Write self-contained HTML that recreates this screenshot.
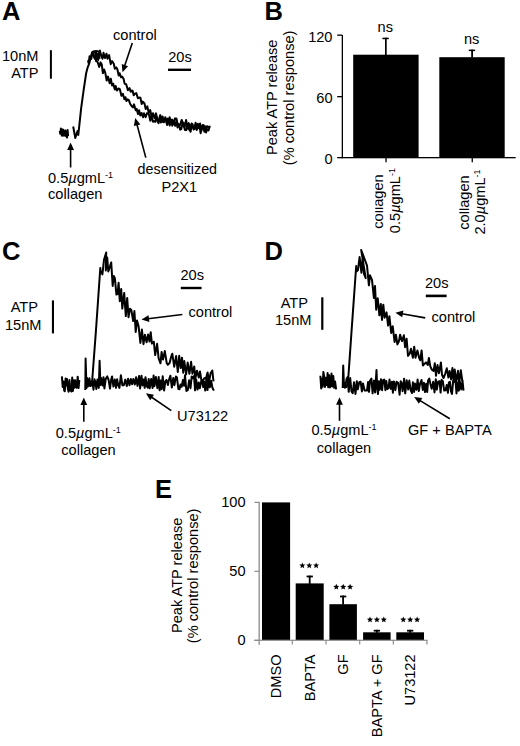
<!DOCTYPE html>
<html><head><meta charset="utf-8"><style>
html,body{margin:0;padding:0;background:#fff;width:520px;height:746px;overflow:hidden}
svg{display:block}
svg text{font-family:"Liberation Sans",sans-serif;fill:#000}
svg path{fill:none;stroke:#000;stroke-width:2;stroke-linejoin:round}
</style></head><body>
<svg width="520" height="746" viewBox="0 0 520 746" font-family="Liberation Sans, sans-serif" fill="#000"><g fill="none" stroke="#000" stroke-width="1.7" stroke-linejoin="round" class="tr"></g><text x="2.0" y="20.2" font-size="25.5" text-anchor="start" font-weight="bold" >A</text>
<text x="38.5" y="61.3" font-size="14.6" text-anchor="end" >10nM</text>
<text x="38.5" y="78.0" font-size="14.6" text-anchor="end" >ATP</text>
<rect x="49.9" y="50.2" width="2" height="28.5"/>
<text x="113.0" y="40.0" font-size="14.6" text-anchor="start" >control</text>
<line x1="132.3" y1="43.0" x2="124.6" y2="66.1" stroke="#000" stroke-width="1.6"/><polygon points="122.5,72.3 121.7,64.1 128.1,66.3" fill="#000"/>
<text x="168.2" y="62.0" font-size="14.6" text-anchor="start" >20s</text>
<rect x="168" y="68.6" width="23" height="2.4"/>
<path d="M59.8 130.9 L60.3 133.8 L60.9 128.6 L61.4 129.7 L61.8 135.6 L62.4 129.4 L62.9 135.7 L63.4 129.8 L64.0 135.5 L64.7 134.3 L65.1 135.6 L65.5 130.6 L66.0 136.2 L66.7 136.6 L67.1 137.5 L67.6 130.0 L68.1 136.2"/>
<path d="M73.2 126.5 L75.3 138.0 L77.5 131.0 L78.3 135.0 L81.1 108.7 L83.7 89.6 L86.2 73.0 L87.5 68.0 L89.4 62.8 L91.3 55.2 L93.2 51.4 L96.0 51.0 L98.3 51.5 L99.6 52.6"/>
<path d="M88.0 60.3 L88.6 63.1 L89.6 56.2 L90.3 58.3 L91.3 59.0 L91.9 52.5 L92.9 52.1 L93.8 57.2 L94.4 57.9 L95.1 59.0 L96.1 52.4 L96.8 59.0 L97.4 53.9 L98.2 60.1 L98.9 53.2 L99.6 58.8"/>
<path d="M99.6 49.8 L101.2 55.5 L102.5 58.7 L103.5 52.8 L104.9 58.1 L106.5 53.7 L107.5 58.7 L109.1 55.1 L110.7 64.2 L112.1 61.1 L113.8 63.8 L114.8 68.7 L116.2 67.4 L117.4 69.3 L118.7 75.6 L119.6 73.2 L121.1 77.3 L122.1 76.6 L123.6 78.9 L124.7 83.9 L126.2 84.3 L127.9 90.2 L129.5 88.1 L130.7 91.8 L131.7 90.6 L132.6 90.7 L133.7 95.3 L135.0 93.7 L136.3 93.1 L137.9 98.3 L139.2 97.5 L140.4 97.8 L141.7 104.0 L142.8 101.6 L144.5 103.5 L145.7 109.0 L147.3 106.4 L148.7 112.6 L150.2 110.0 L151.6 116.8 L153.0 113.2 L154.4 118.1 L156.0 113.4 L157.5 120.1 L159.0 120.1 L160.3 115.1 L161.6 121.8 L162.6 116.4 L163.9 122.3 L165.3 117.2 L166.7 122.7 L167.7 118.6 L168.7 121.4 L169.6 117.3 L171.0 122.1 L172.2 119.7 L173.8 123.9 L174.8 118.6 L176.4 118.5 L177.8 124.8 L179.2 125.9 L180.4 124.3 L181.7 119.9 L183.3 125.2 L184.5 127.6 L186.1 119.9 L187.4 128.3 L188.7 123.1 L190.1 128.5 L191.6 123.4 L193.3 127.7 L194.3 128.9 L195.6 122.8 L196.6 129.2 L197.8 123.8 L198.9 128.3 L200.1 123.4 L201.4 130.4 L202.8 125.0 L204.4 131.7 L205.4 126.5 L207.0 130.3 L208.5 130.5 L209.9 125.7"/>
<path d="M95.0 51.0 L96.1 61.1 L97.6 62.0 L99.2 66.9 L100.6 62.4 L101.7 64.2 L102.9 73.1 L104.1 69.5 L105.3 72.9 L106.7 80.6 L108.0 76.6 L109.7 83.2 L110.8 78.7 L112.1 85.5 L113.2 83.7 L114.8 89.6 L115.7 86.0 L116.9 90.5 L118.6 88.5 L119.8 89.1 L121.4 95.8 L122.9 93.9 L124.4 99.3 L125.5 97.2 L126.4 101.1 L127.6 99.4 L128.8 100.2 L130.1 103.7 L131.2 105.5 L132.9 107.4 L134.0 104.4 L135.7 110.3 L136.6 108.9 L138.1 114.1 L139.1 110.3 L140.3 115.5 L141.6 113.0 L143.0 117.3 L144.0 113.3 L145.6 117.2 L147.1 113.1 L148.8 113.9 L150.3 120.7 L151.5 115.7 L153.0 121.7 L154.1 121.3 L155.3 121.8 L156.2 116.1 L157.5 121.0 L158.5 123.2 L159.9 116.4 L160.9 122.4 L161.9 119.0 L163.2 122.1 L164.6 118.8 L165.9 119.4 L167.1 125.0 L168.4 119.5 L169.7 125.6 L171.1 119.7 L172.3 125.7 L173.7 122.3 L175.2 125.8 L176.4 121.0 L177.5 127.4 L178.8 124.0 L180.2 129.7 L181.2 129.2 L182.6 123.2 L183.7 122.7 L184.8 129.9 L186.3 130.1 L187.8 125.8 L189.0 129.2 L190.6 131.7 L191.6 126.0 L192.5 124.2 L193.6 129.5 L195.3 125.3 L196.7 130.0 L198.3 124.8 L199.6 126.3 L200.6 133.2 L202.0 127.0 L203.5 125.2 L205.1 127.3 L206.1 132.6 L207.0 126.3 L208.5 126.9 L209.6 127.1"/>
<line x1="70.6" y1="167.5" x2="70.6" y2="149.0" stroke="#000" stroke-width="1.6"/><polygon points="70.6,142.5 74.0,150.0 67.2,150.0" fill="#000"/>
<text x="48.0" y="183.0" font-size="14.6" text-anchor="start" >0.5<tspan font-style="italic">µ</tspan>gmL<tspan font-size="9" dy="-5">-1</tspan></text>
<text x="48.0" y="198.5" font-size="14.6" text-anchor="start" >collagen</text>
<line x1="145.8" y1="157.6" x2="136.9" y2="124.3" stroke="#000" stroke-width="1.6"/><polygon points="135.2,118.0 140.4,124.4 133.9,126.1" fill="#000"/>
<text x="137.6" y="174.0" font-size="14.3" text-anchor="start" >desensitized</text>
<text x="161.5" y="191.5" font-size="14.6" text-anchor="start" >P2X1</text>
<text x="264.5" y="20.2" font-size="25.5" text-anchor="start" font-weight="bold" >B</text>
<text transform="translate(276.5,97.3) rotate(-90)" font-size="14.6" text-anchor="middle" font-family="Liberation Sans, sans-serif">Peak ATP release</text>
<text transform="translate(293.8,97.9) rotate(-90)" font-size="14.6" text-anchor="middle" font-family="Liberation Sans, sans-serif">(% control response)</text>
<rect x="341.7" y="35" width="1.3" height="123.3"/>
<rect x="337.2" y="34.5" width="5" height="1.3"/>
<rect x="337.2" y="96.0" width="5" height="1.3"/>
<rect x="337.2" y="157" width="178.5" height="1.3"/>
<text x="332.5" y="41.8" font-size="14.6" text-anchor="end" >120</text>
<text x="332.5" y="102.5" font-size="14.6" text-anchor="end" >60</text>
<text x="332.5" y="163.5" font-size="14.6" text-anchor="end" >0</text>
<rect x="353.2" y="54.7" width="65.4" height="103"/>
<rect x="439.3" y="57.2" width="65.4" height="100.5"/>
<rect x="385" y="37.7" width="1.7" height="17.5"/><rect x="382.4" y="37.7" width="6.4" height="1.5"/>
<rect x="471.2" y="49.6" width="1.8" height="8"/><rect x="468.8" y="49.6" width="6.3" height="1.5"/>
<text x="385.3" y="32.1" font-size="14.6" text-anchor="middle" >ns</text>
<text x="471.6" y="44.2" font-size="14.6" text-anchor="middle" >ns</text>
<rect x="385.4" y="157.5" width="1.3" height="4.8"/>
<rect x="471.6" y="157.5" width="1.3" height="4.8"/>
<clipPath id="cl1"><rect x="375.3" y="150" width="30" height="100"/></clipPath><clipPath id="cl2"><rect x="459.4" y="150" width="30" height="100"/></clipPath>
<g clip-path="url(#cl1)"><text transform="translate(383,201.5) rotate(-90)" font-size="14.6" text-anchor="middle" font-family="Liberation Sans, sans-serif">collagen</text></g>
<text transform="translate(399.5,200.6) rotate(-90)" font-size="14.6" text-anchor="middle" font-family="Liberation Sans, sans-serif">0.5<tspan font-style="italic">µ</tspan>gmL<tspan font-size="9" dy="-5">-1</tspan></text>
<g clip-path="url(#cl2)"><text transform="translate(468.5,202.5) rotate(-90)" font-size="14.6" text-anchor="middle" font-family="Liberation Sans, sans-serif">collagen</text></g>
<text transform="translate(485,202) rotate(-90)" font-size="14.6" text-anchor="middle" font-family="Liberation Sans, sans-serif">2.0<tspan font-style="italic">µ</tspan>gmL<tspan font-size="9" dy="-5">-1</tspan></text>
<text x="2.0" y="260.0" font-size="25.5" text-anchor="start" font-weight="bold" >C</text>
<text x="38.0" y="312.0" font-size="14.6" text-anchor="end" >ATP</text>
<text x="41.5" y="329.8" font-size="14.6" text-anchor="end" >15nM</text>
<rect x="51.9" y="300.4" width="2.1" height="33"/>
<text x="180.5" y="280.0" font-size="14.6" text-anchor="start" >20s</text>
<rect x="180.8" y="286.8" width="20.8" height="2.4"/>
<text x="188.5" y="317.2" font-size="14.6" text-anchor="start" >control</text>
<line x1="182.3" y1="314.5" x2="148.0" y2="318.7" stroke="#000" stroke-width="1.6"/><polygon points="141.5,319.5 148.5,315.2 149.4,322.0" fill="#000"/>
<path d="M61.9 376.4 L62.7 387.0 L63.5 381.5 L64.2 390.7 L64.8 391.1 L65.6 378.6 L66.2 385.6 L67.0 378.9 L67.9 388.9 L68.6 391.7 L69.5 380.1 L70.1 390.5 L70.8 386.6 L71.5 391.5 L72.2 377.6 L72.9 391.0 L73.8 380.2 L74.4 387.8 L75.2 380.3 L76.1 386.6 L76.7 387.8 L77.7 376.7 L78.6 388.0 L79.3 380.0"/>
<path d="M85.3 390.0 L85.6 358.5 L86.5 388.0 L87.0 377.8 L87.9 386.5 L89.4 378.2 L90.7 386.0 L92.2 381.1 L93.5 389.7 L94.4 379.2 L95.3 381.8 L96.4 389.0 L97.4 379.6 L98.8 387.8 L99.6 360.8 L100.4 385.0 L101.0 377.7 L102.5 385.6 L103.5 377.2 L104.4 388.5 L105.7 379.0 L107.2 376.4 L108.6 379.8 L110.0 388.6 L111.2 379.4 L112.1 376.4 L113.4 386.6 L114.8 379.6 L116.0 387.8 L117.1 379.2 L118.1 384.8 L119.4 387.9 L120.9 375.2 L122.4 385.3 L123.8 385.2 L125.3 379.6 L126.8 386.0 L128.1 378.8 L129.5 385.2 L130.8 379.1 L132.1 384.2 L133.3 378.9 L134.8 384.5 L136.1 377.2 L137.5 385.9 L139.1 375.9 L140.1 388.5 L141.5 375.7 L142.5 385.4 L143.6 379.4 L144.7 387.8 L145.5 377.2 L146.8 386.1 L147.7 387.6 L148.7 378.9 L149.7 388.3 L151.2 379.0 L152.6 388.0 L153.6 375.6 L154.5 386.2 L155.9 377.0 L157.4 388.2 L158.7 377.1 L159.6 390.3 L160.8 380.6 L161.7 389.2 L162.7 376.2 L164.1 390.5 L165.4 381.2 L166.5 380.0 L167.9 385.0 L168.9 380.0 L170.4 375.7 L171.8 387.5 L173.3 378.0 L174.4 385.2 L175.9 376.6 L176.9 377.3 L178.4 389.0 L179.5 389.2 L180.5 384.5 L181.7 386.7 L182.9 380.0 L184.1 385.8 L185.0 375.3 L186.4 390.9 L187.8 390.1 L189.1 380.3 L190.5 388.2 L191.7 376.4 L192.9 378.1 L194.0 376.0 L195.1 390.3 L196.2 379.6 L197.6 389.6 L198.8 382.4 L199.8 388.2 L201.3 381.2 L202.3 380.9 L203.2 387.0 L204.2 381.5 L205.2 390.6 L206.5 378.3 L207.5 390.1 L208.7 377.9 L209.8 387.3 L211.1 380.7 L212.4 387.8 L213.9 390.6"/>
<path d="M86.0 384.0 L88.0 380.0 L90.0 386.0 L92.0 383.0 L96.0 330.0 L100.3 268.0 L100.5 270.8 L102.4 274.4 L104.0 259.8 L106.2 252.5 L105.8 270.4 L107.2 257.6 L108.3 271.5 L110.0 266.4 L111.2 262.4 L112.7 286.0 L113.8 275.9 L114.9 278.3 L116.4 294.6 L117.5 294.1 L118.6 282.8 L119.8 301.2 L121.2 289.1 L122.3 308.6 L124.2 292.9 L125.8 316.1 L127.2 298.1 L128.5 317.3 L130.0 308.7 L131.3 310.0 L133.2 321.0 L134.4 311.0 L135.7 331.9 L137.0 320.6 L138.6 326.3 L140.4 342.9 L141.9 329.5 L143.5 344.2 L144.9 334.8 L146.6 342.2 L148.1 334.4 L149.5 341.5 L150.7 332.2 L151.9 343.6 L153.8 341.7 L155.2 355.1 L157.1 343.8 L158.6 358.2 L160.5 363.3 L161.6 351.9 L163.0 359.5 L164.8 351.1 L166.7 363.0 L167.8 364.8 L169.6 363.1 L171.1 356.9 L172.3 353.7 L174.2 366.7 L176.1 356.1 L177.8 371.9 L179.2 355.8 L180.7 368.1 L182.0 357.7 L183.2 372.7 L184.3 361.1 L186.1 374.4 L187.7 362.6 L189.4 373.8 L191.1 361.8 L192.4 373.7 L194.2 366.4 L195.4 378.3 L197.0 370.7 L198.8 377.6 L200.0 371.4 L201.4 380.4 L202.8 380.3 L204.5 378.1 L205.9 378.5 L207.6 372.4 L209.0 382.1 L210.5 373.6 L212.3 370.6 L213.5 381.4"/>
<line x1="83.8" y1="421.7" x2="83.8" y2="404.0" stroke="#000" stroke-width="1.6"/><polygon points="83.8,397.5 87.2,405.0 80.4,405.0" fill="#000"/>
<text x="88.3" y="438.0" font-size="14.6" text-anchor="middle" >0.5<tspan font-style="italic">µ</tspan>gmL<tspan font-size="9" dy="-5">-1</tspan></text>
<text x="88.5" y="455.0" font-size="14.6" text-anchor="middle" >collagen</text>
<line x1="171.3" y1="410.6" x2="151.3" y2="397.0" stroke="#000" stroke-width="1.6"/><polygon points="145.9,393.3 154.0,394.7 150.2,400.3" fill="#000"/>
<text x="177.0" y="421.0" font-size="14.6" text-anchor="start" >U73122</text>
<text x="264.5" y="259.8" font-size="25.5" text-anchor="start" font-weight="bold" >D</text>
<text x="308.0" y="308.0" font-size="14.6" text-anchor="end" >ATP</text>
<text x="311.5" y="325.0" font-size="14.6" text-anchor="end" >15nM</text>
<rect x="321.2" y="297.3" width="2.2" height="32.5"/>
<text x="425.0" y="287.7" font-size="14.6" text-anchor="start" >20s</text>
<rect x="425.8" y="294.6" width="20.8" height="2.6"/>
<text x="431.5" y="322.3" font-size="14.6" text-anchor="start" >control</text>
<line x1="425.2" y1="317.9" x2="401.8" y2="313.8" stroke="#000" stroke-width="1.6"/><polygon points="395.4,312.7 403.4,310.6 402.2,317.3" fill="#000"/>
<path d="M320.4 375.7 L321.2 388.5 L322.0 378.8 L322.7 386.7 L323.4 371.9 L324.3 377.7 L325.0 387.0 L325.8 377.7 L326.8 385.0 L327.6 373.1 L328.2 387.2 L329.2 375.2 L330.1 387.4 L330.8 386.1 L331.5 373.5 L332.3 386.4 L333.3 376.1 L334.2 387.8 L335.1 381.6 L336.1 389.4"/>
<path d="M342.7 388.0 L343.2 365.4 L344.0 386.0 L345.0 387.7 L346.6 378.9 L347.6 377.1 L348.7 391.8 L350.2 378.0 L351.5 391.5 L352.7 393.1 L354.0 382.3 L355.5 394.0 L356.8 381.2 L357.8 389.3 L359.3 382.1 L360.6 381.7 L361.9 391.4 L363.0 383.4 L364.6 390.5 L366.1 390.5 L367.0 390.6 L368.1 381.9 L369.0 391.8 L370.0 380.7 L371.4 378.5 L372.6 393.3 L374.0 380.5 L375.1 392.4 L376.5 370.0 L377.2 388.0 L378.0 394.0 L378.9 381.3 L379.8 389.7 L381.0 379.2 L382.1 390.2 L383.0 380.4 L384.3 379.5 L385.4 390.2 L386.3 381.1 L387.5 389.0 L388.6 388.1 L389.5 379.6 L390.9 388.9 L392.0 381.7 L392.9 392.7 L393.9 381.4 L395.4 390.2 L396.5 381.7 L398.1 382.9 L399.6 394.7 L400.7 381.2 L401.7 383.4 L402.6 391.2 L404.1 378.7 L405.2 393.3 L406.7 380.3 L408.2 389.5 L409.3 380.6 L410.7 390.3 L412.0 393.0 L412.9 382.3 L414.1 391.9 L414.9 383.4 L416.4 389.9 L417.6 379.6 L418.8 391.1 L420.0 383.9 L421.5 380.0 L422.8 389.9 L423.9 382.7 L425.0 392.1 L426.2 383.7 L427.2 392.0 L428.1 380.6 L429.3 378.6 L430.3 383.4 L431.7 388.7 L433.2 381.8 L434.5 392.5 L435.8 379.3 L436.8 389.6 L438.2 381.5 L439.6 381.3 L440.6 392.6 L441.6 379.8 L442.8 381.2 L444.2 390.5 L445.6 390.3 L446.7 385.1 L447.9 392.8 L448.9 382.3 L450.0 381.8 L451.0 391.3 L452.0 394.0 L453.2 380.7 L454.7 381.9 L455.6 381.8 L456.5 393.4 L457.9 382.5 L458.8 390.7 L460.0 382.1 L461.2 389.4 L462.5 380.7 L463.5 390.6"/>
<path d="M345.0 385.0 L346.5 387.0 L348.0 382.0 L351.7 329.0 L356.2 266.0 L355.9 272.0 L357.9 270.3 L359.6 257.1 L361.4 272.7 L362.5 258.6 L364.0 273.8 L365.7 278.1 L361.2 250.0 L367.0 265.5 L368.9 285.3 L370.0 275.3 L372.0 279.8 L373.9 297.9 L375.0 285.9 L376.2 309.7 L377.7 298.2 L379.4 315.3 L380.8 303.9 L382.0 319.9 L383.3 304.7 L384.6 317.7 L386.5 312.4 L388.1 325.6 L389.4 316.2 L391.2 333.0 L392.7 326.2 L394.6 342.0 L395.9 334.7 L397.4 344.4 L398.9 341.4 L400.1 334.7 L402.0 341.1 L403.9 335.3 L405.1 347.2 L406.6 338.7 L408.0 355.8 L409.8 353.5 L411.0 348.7 L412.9 357.8 L414.2 346.7 L415.5 357.7 L417.4 350.4 L419.1 357.8 L420.3 360.3 L421.6 350.4 L422.9 365.5 L424.4 363.9 L426.0 362.4 L427.8 365.0 L428.9 357.9 L430.3 366.4 L431.9 369.8 L433.6 371.0 L434.8 363.2 L436.0 375.8 L437.5 365.1 L439.0 373.2 L440.9 362.4 L442.0 374.8 L443.5 378.0 L445.2 373.8 L446.8 368.3 L448.4 377.5 L449.6 370.9 L451.1 379.4 L452.4 368.1 L453.7 381.5 L454.7 369.4 L456.2 382.0 L458.0 370.8 L459.2 383.6 L460.8 370.2 L462.3 380.8"/>
<line x1="339.5" y1="420.8" x2="339.5" y2="403.7" stroke="#000" stroke-width="1.6"/><polygon points="339.5,397.2 342.9,404.7 336.1,404.7" fill="#000"/>
<text x="344.0" y="435.2" font-size="14.6" text-anchor="middle" >0.5<tspan font-style="italic">µ</tspan>gmL<tspan font-size="9" dy="-5">-1</tspan></text>
<text x="344.0" y="452.5" font-size="14.6" text-anchor="middle" >collagen</text>
<line x1="449.8" y1="418.8" x2="419.7" y2="400.4" stroke="#000" stroke-width="1.6"/><polygon points="414.2,397.0 422.4,398.0 418.8,403.8" fill="#000"/>
<text x="408.0" y="434.6" font-size="14.6" text-anchor="start" >GF + BAPTA</text>
<text x="155.0" y="497.7" font-size="25.5" text-anchor="start" font-weight="bold" >E</text>
<text transform="translate(181.6,575.3) rotate(-90)" font-size="14.6" text-anchor="middle" font-family="Liberation Sans, sans-serif">Peak ATP release</text>
<text transform="translate(198,575.9) rotate(-90)" font-size="14.6" text-anchor="middle" font-family="Liberation Sans, sans-serif">(% control response)</text>
<rect x="258.5" y="501.8" width="1.3" height="143" fill="#8c8c8c"/>
<rect x="254.4" y="501.8" width="5" height="1.2" fill="#8c8c8c"/>
<rect x="254.4" y="570.7" width="5" height="1.2" fill="#8c8c8c"/>
<rect x="254.4" y="639.8" width="5" height="1.2" fill="#8c8c8c"/>
<rect x="254.4" y="639.7" width="173" height="1.2" fill="#8c8c8c"/>
<rect x="291.7" y="640" width="1.2" height="4.5" fill="#8c8c8c"/>
<rect x="325.4" y="640" width="1.2" height="4.5" fill="#8c8c8c"/>
<rect x="359.1" y="640" width="1.2" height="4.5" fill="#8c8c8c"/>
<rect x="392.7" y="640" width="1.2" height="4.5" fill="#8c8c8c"/>
<rect x="426.3" y="640" width="1.2" height="4.5" fill="#8c8c8c"/>
<text x="245.6" y="507.2" font-size="14.6" text-anchor="end" >100</text>
<text x="245.6" y="576.3" font-size="14.6" text-anchor="end" >50</text>
<text x="245.6" y="645.0" font-size="14.6" text-anchor="end" >0</text>
<rect x="262.0" y="502.4" width="28.1" height="137.4"/>
<rect x="295.7" y="583.4" width="28.0" height="56.4"/>
<rect x="308.8" y="575.6" width="1.8" height="8.3"/><rect x="306.6" y="575.6" width="6.3" height="1.8"/>
<rect x="329.4" y="604.2" width="27.5" height="35.6"/>
<rect x="342.2" y="595.6" width="1.8" height="9.1"/><rect x="340.0" y="595.6" width="6.3" height="1.8"/>
<rect x="363.1" y="632.3" width="27.5" height="7.5"/>
<rect x="376.0" y="629.8" width="1.8" height="3.0"/><rect x="373.7" y="629.8" width="6.3" height="1.8"/>
<rect x="396.3" y="632.3" width="27.7" height="7.5"/>
<rect x="409.2" y="629.8" width="1.8" height="3.0"/><rect x="407.0" y="629.8" width="6.3" height="1.8"/>
<polygon points="302.35,562.40 303.20,564.43 305.39,564.61 303.73,566.05 304.23,568.19 302.35,567.05 300.47,568.19 300.97,566.05 299.31,564.61 301.50,564.43"/>
<polygon points="309.25,562.40 310.10,564.43 312.29,564.61 310.63,566.05 311.13,568.19 309.25,567.05 307.37,568.19 307.87,566.05 306.21,564.61 308.40,564.43"/>
<polygon points="316.15,562.40 317.00,564.43 319.19,564.61 317.53,566.05 318.03,568.19 316.15,567.05 314.27,568.19 314.77,566.05 313.11,564.61 315.30,564.43"/>
<polygon points="336.30,583.80 337.15,585.83 339.34,586.01 337.68,587.45 338.18,589.59 336.30,588.45 334.42,589.59 334.92,587.45 333.26,586.01 335.45,585.83"/>
<polygon points="343.20,583.80 344.05,585.83 346.24,586.01 344.58,587.45 345.08,589.59 343.20,588.45 341.32,589.59 341.82,587.45 340.16,586.01 342.35,585.83"/>
<polygon points="350.10,583.80 350.95,585.83 353.14,586.01 351.48,587.45 351.98,589.59 350.10,588.45 348.22,589.59 348.72,587.45 347.06,586.01 349.25,585.83"/>
<polygon points="370.00,616.50 370.85,618.53 373.04,618.71 371.38,620.15 371.88,622.29 370.00,621.15 368.12,622.29 368.62,620.15 366.96,618.71 369.15,618.53"/>
<polygon points="376.90,616.50 377.75,618.53 379.94,618.71 378.28,620.15 378.78,622.29 376.90,621.15 375.02,622.29 375.52,620.15 373.86,618.71 376.05,618.53"/>
<polygon points="383.80,616.50 384.65,618.53 386.84,618.71 385.18,620.15 385.68,622.29 383.80,621.15 381.92,622.29 382.42,620.15 380.76,618.71 382.95,618.53"/>
<polygon points="403.30,616.50 404.15,618.53 406.34,618.71 404.68,620.15 405.18,622.29 403.30,621.15 401.42,622.29 401.92,620.15 400.26,618.71 402.45,618.53"/>
<polygon points="410.20,616.50 411.05,618.53 413.24,618.71 411.58,620.15 412.08,622.29 410.20,621.15 408.32,622.29 408.82,620.15 407.16,618.71 409.35,618.53"/>
<polygon points="417.10,616.50 417.95,618.53 420.14,618.71 418.48,620.15 418.98,622.29 417.10,621.15 415.22,622.29 415.72,620.15 414.06,618.71 416.25,618.53"/>
<text transform="translate(281.2,654.4) rotate(-90)" font-size="14.6" text-anchor="end" font-family="Liberation Sans, sans-serif">DMSO</text>
<text transform="translate(314.9,654.4) rotate(-90)" font-size="14.6" text-anchor="end" font-family="Liberation Sans, sans-serif">BAPTA</text>
<text transform="translate(348.3,654.4) rotate(-90)" font-size="14.6" text-anchor="end" font-family="Liberation Sans, sans-serif">GF</text>
<text transform="translate(382.1,654.4) rotate(-90)" font-size="14.6" text-anchor="end" font-family="Liberation Sans, sans-serif">BAPTA + GF</text>
<text transform="translate(415.3,654.4) rotate(-90)" font-size="14.6" text-anchor="end" font-family="Liberation Sans, sans-serif">U73122</text></svg>
</body></html>
